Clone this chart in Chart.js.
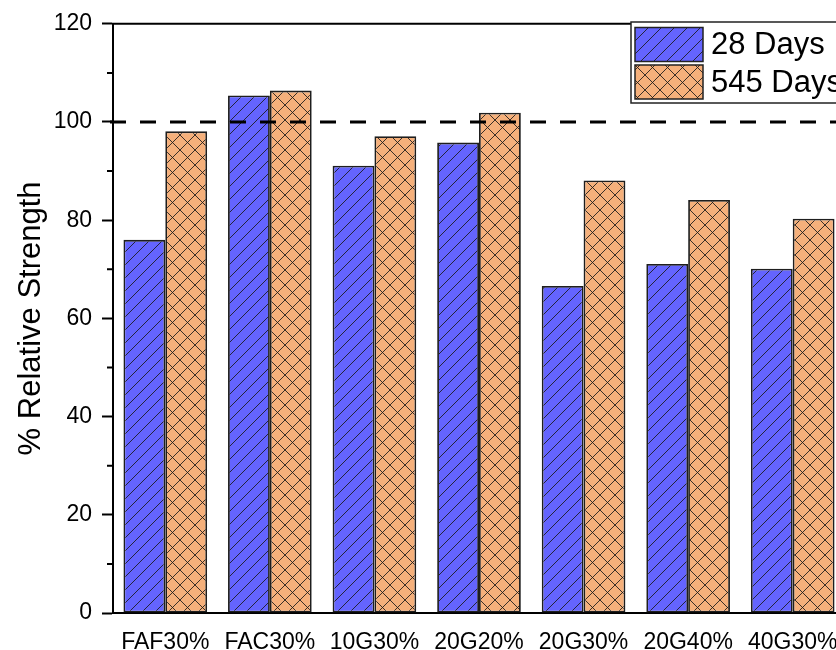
<!DOCTYPE html>
<html>
<head>
<meta charset="utf-8">
<script src="https://cdn.jsdelivr.net/npm/chart.js"></script>
<style>
  html, body { margin: 0; padding: 0; overflow: hidden; background: #fff; }
  #wrap { width: 860px; height: 650px; }
</style>
</head>
<body>
<div id="wrap"><canvas id="chart" width="860" height="650"></canvas></div>
<script>
const categories = ['FAF30%', 'FAC30%', '10G30%', '20G20%', '20G30%', '20G40%', '40G30%'];
const days28 = [76.0, 105.4, 91.1, 95.8, 66.6, 71.1, 70.1];
const days545 = [98.1, 106.4, 97.1, 101.9, 88.1, 84.1, 80.3];
const seriesNames = ['28 Days', '545 Days'];
const yTicks = [0, 20, 40, 60, 80, 100, 120];
const yMinorTicks = [10, 30, 50, 70, 90, 110];
const referenceValue = 100;

const FONT = 'Arial, "Liberation Sans", sans-serif';
const BLUE = '#6464ff';
const ORANGE = '#f5b07b';
const HATCH = 'rgba(25,25,25,0.85)';

// tile patterns like the Origin fills
function makeHatch(bg, cross) {
  const size = cross ? 15 : 13;
  const c = document.createElement('canvas');
  c.width = size;
  c.height = size;
  const g = c.getContext('2d');
  g.fillStyle = bg;
  g.fillRect(0, 0, size, size);
  g.strokeStyle = HATCH;
  g.lineWidth = 1;
  g.beginPath();
  for (const o of [-size, 0, size]) {
    g.moveTo(o, size);
    g.lineTo(o + size, 0);
    if (cross) {
      g.moveTo(o, 0);
      g.lineTo(o + size, size);
    }
  }
  g.stroke();
  return g.createPattern(c, 'repeat');
}

const canvas = document.getElementById('chart');
const ctx = canvas.getContext('2d');
const bluePattern = makeHatch(BLUE, false);
const orangePattern = makeHatch(ORANGE, true);

const extrasPlugin = {
  id: 'extras',
  afterDatasetsDraw(chart) {
    const { ctx, chartArea, scales } = chart;
    const y = scales.y;
    ctx.save();

    // reference line
    const yRef = y.getPixelForValue(referenceValue);
    ctx.strokeStyle = '#000';
    ctx.lineWidth = 3;
    ctx.setLineDash([16, 14]);
    ctx.beginPath();
    ctx.moveTo(chartArea.left - 3, yRef);
    ctx.lineTo(chart.width, yRef);
    ctx.stroke();
    ctx.setLineDash([]);

    // top axis line
    ctx.lineWidth = 2;
    ctx.beginPath();
    ctx.moveTo(chartArea.left - 1, chartArea.top);
    ctx.lineTo(chart.width, chartArea.top);
    ctx.stroke();

    // minor ticks
    ctx.beginPath();
    yMinorTicks.forEach(v => {
      const py = y.getPixelForValue(v);
      ctx.moveTo(chartArea.left - 6, py);
      ctx.lineTo(chartArea.left, py);
    });
    ctx.stroke();

    // legend
    const lx = 631, ly = 22, lw = 260, lh = 81;
    ctx.fillStyle = '#fff';
    ctx.fillRect(lx, ly, lw, lh);
    ctx.strokeStyle = '#222';
    ctx.lineWidth = 1.5;
    ctx.strokeRect(lx, ly, lw, lh);

    const fills = [bluePattern, orangePattern];
    ctx.font = '31px ' + FONT;
    ctx.textBaseline = 'middle';
    seriesNames.forEach((name, i) => {
      const sy = 27.5 + i * 37.5;
      ctx.fillStyle = fills[i];
      ctx.fillRect(635, sy, 68, 34);
      ctx.strokeStyle = '#222';
      ctx.lineWidth = 1.5;
      ctx.strokeRect(635, sy, 68, 34);
      ctx.fillStyle = '#000';
      ctx.fillText(name, 711, sy + 18);
    });
    ctx.restore();
  }
};

new Chart(ctx, {
  type: 'bar',
  data: {
    labels: categories,
    datasets: [
      {
        label: seriesNames[0],
        data: days28,
        backgroundColor: bluePattern,
        borderColor: '#1e1e1e',
        borderWidth: 1.8,
        borderSkipped: false
      },
      {
        label: seriesNames[1],
        data: days545,
        backgroundColor: orangePattern,
        borderColor: '#1e1e1e',
        borderWidth: 1.8,
        borderSkipped: false
      }
    ]
  },
  options: {
    responsive: false,
    animation: false,
    layout: { padding: { top: 23, right: 15, left: 0, bottom: 0 } },
    categoryPercentage: 0.8,
    barPercentage: 1.0,
    plugins: {
      legend: { display: false },
      tooltip: { enabled: false }
    },
    scales: {
      x: {
        grid: { display: false },
        border: { display: true, color: '#000', width: 2 },
        ticks: {
          color: '#000',
          font: { family: FONT, size: 23 },
          padding: 8,
          maxRotation: 0,
          autoSkip: false
        },
        afterFit(scale) { scale.height = 37; }
      },
      y: {
        min: 0,
        max: 120,
        afterBuildTicks(scale) { scale.ticks = yTicks.map(v => ({ value: v })); },
        grid: {
          drawOnChartArea: false,
          tickLength: 11,
          tickWidth: 2,
          tickColor: '#000'
        },
        border: { display: true, color: '#000', width: 2 },
        ticks: {
          color: '#000',
          font: { family: FONT, size: 23 },
          padding: 10
        },
        title: {
          display: true,
          text: '% Relative Strength',
          color: '#000',
          font: { family: FONT, size: 31 },
          padding: { top: 13, bottom: 0 }
        },
        afterFit(scale) { scale.width = 113; }
      }
    }
  },
  plugins: [extrasPlugin]
});
</script>
</body>
</html>
